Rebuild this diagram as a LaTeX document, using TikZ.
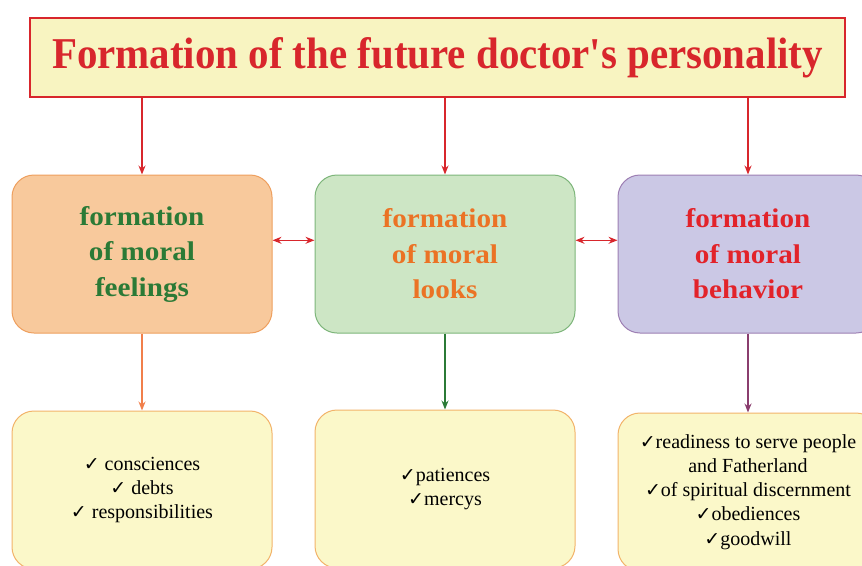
\documentclass[tikz,border=0pt]{standalone}
\usepackage{fontspec}
\usetikzlibrary{arrows.meta}

\setmainfont{Liberation Serif}
\newfontfamily\titlefont[FakeStretch=0.93]{Liberation Serif}
\newfontfamily\stagefont[FakeStretch=1.08]{Liberation Serif}
\newfontfamily\tickfont{DejaVu Sans}

\definecolor{titlered}{HTML}{D8262C}
\definecolor{titlefill}{HTML}{F8F4C1}
\definecolor{feelfill}{HTML}{F8C99C}
\definecolor{feeldraw}{HTML}{EE9F5E}
\definecolor{feeltext}{HTML}{2B7A36}
\definecolor{lookfill}{HTML}{CDE6C5}
\definecolor{lookdraw}{HTML}{7DB57A}
\definecolor{looktext}{HTML}{EB7325}
\definecolor{behfill}{HTML}{CBC8E5}
\definecolor{behdraw}{HTML}{9D7FB3}
\definecolor{behtext}{HTML}{E2232A}
\definecolor{listfill}{HTML}{FBF8C9}
\definecolor{listdraw}{HTML}{F2B36A}
\definecolor{behline}{HTML}{8A3D6E}

\newcommand{\tick}{{\tickfont\fontsize{19}{19}\selectfont\bfseries ✓}}

\begin{document}
\begin{tikzpicture}[
    x = 1pt, y = -1pt,
    >={Stealth[length = 9pt, width = 7pt]},
    %
    heading/.style = {draw = titlered, fill = titlefill,
      line width = 2.2pt,
      text = titlered,
      font = \titlefont\fontsize{44}{50}\selectfont\bfseries,
      minimum width = {815pt}, minimum height = {79pt}},
    %
    stage/.style = {draw, line width = 1pt,
      rounded corners = 22pt, align = center,
      font = \stagefont\fontsize{27}{35.5}\selectfont\bfseries,
      minimum width = {260pt}, minimum height = {158pt}},
    %
    list/.style = {draw = listdraw, fill = listfill, line width = 1pt,
      rounded corners = 22pt, align = center,
      font = \fontsize{20}{24.2}\selectfont,
      minimum width = {260pt}, minimum height = {158pt}},
    %
    feel/.style = {draw = feeldraw, fill = feelfill, text = feeltext},
    look/.style = {draw = lookdraw, fill = lookfill, text = looktext},
    beh/.style = {draw = behdraw, fill = behfill, text = behtext},
    link/.style = {->, line width = 1.4pt},
    ]

    \clip (0, 0) rectangle (862, 565);

    \node at (437.5, 57.5)
    [heading, name = title] {Formation of the future doctor's personality};

    \node at (142, 254)
    [stage, feel, name = feelings] {formation\\of moral\\feelings};
    \node at (445, 254)
    [stage, look, name = looks] {formation\\of moral\\looks};
    \node at (748, 254)
    [stage, beh, name = behavior] {formation\\of moral\\behavior};

    \node at (142, 490)
    [list, name = feelingsList]
    {\tick\ consciences\\ \tick\ debts\\ \tick\ responsibilities};
    \node at (445, 489)
    [list, name = looksList]
    {\tick patiences\\ \tick mercys};
    \node at (748, 492)
    [list, name = behaviorList]
    {\tick readiness to serve people\\ and Fatherland\\
      \tick of spiritual discernment\\ \tick obediences\\ \tick goodwill};

    \draw [link, titlered] (title.south -| feelings) to (feelings.north);
    \draw [link, titlered] (title.south -| looks) to (looks.north);
    \draw [link, titlered] (title.south -| behavior) to (behavior.north);

    \draw [<->, line width = 1.4pt, titlered] (feelings.6) to (looks.174);
    \draw [<->, line width = 1.4pt, titlered] (looks.6) to (behavior.174);

    \draw [link, feeldraw!80!red] (feelings.south) to (feelingsList.north);
    \draw [link, feeltext] (looks.south) to (looksList.north);
    \draw [link, behline] (behavior.south) to (behaviorList.north);

  \end{tikzpicture}
\end{document}
